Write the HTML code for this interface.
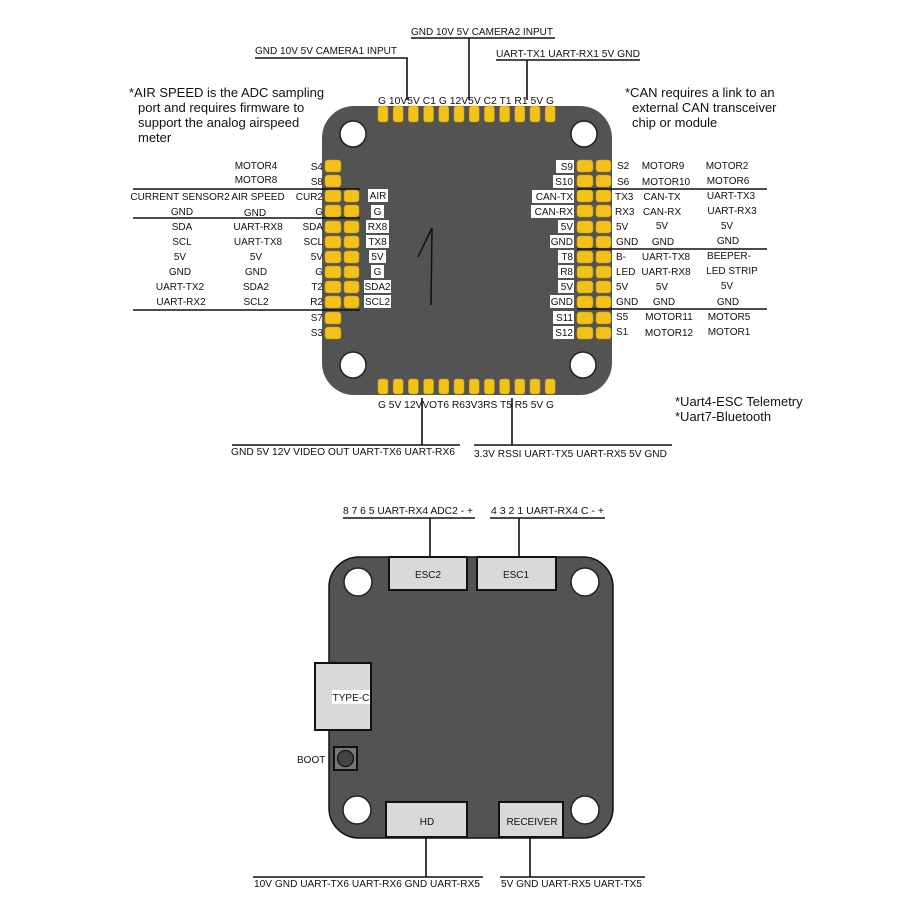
<!DOCTYPE html>
<html><head><meta charset="utf-8"><style>
html,body{margin:0;padding:0;background:#fff;}
svg{display:block;}
text{font-family:"Liberation Sans",sans-serif;fill:#111;}
.s{font-size:10px;}
.n{font-size:13px;fill:#222;}
.lb{font-size:10px;}
</style></head><body>
<svg width="900" height="900" viewBox="0 0 900 900" xmlns="http://www.w3.org/2000/svg">
<!-- TOP BOARD -->
<rect x="322" y="106" width="290" height="289" rx="32" fill="#535354"/>
<circle cx="353" cy="134" r="13" fill="#fff" stroke="#222" stroke-width="1.5"/>
<circle cx="584" cy="134" r="13" fill="#fff" stroke="#222" stroke-width="1.5"/>
<circle cx="353" cy="365" r="13" fill="#fff" stroke="#222" stroke-width="1.5"/>
<circle cx="583" cy="365" r="13" fill="#fff" stroke="#222" stroke-width="1.5"/>
<g fill="#f2c21b" stroke="#c79a00" stroke-width="0.6">
<rect x="378" y="106" width="10" height="16" rx="2.5"/><rect x="393.2" y="106" width="10" height="16" rx="2.5"/><rect x="408.4" y="106" width="10" height="16" rx="2.5"/><rect x="423.6" y="106" width="10" height="16" rx="2.5"/><rect x="438.8" y="106" width="10" height="16" rx="2.5"/><rect x="454" y="106" width="10" height="16" rx="2.5"/><rect x="469.2" y="106" width="10" height="16" rx="2.5"/><rect x="484.4" y="106" width="10" height="16" rx="2.5"/><rect x="499.6" y="106" width="10" height="16" rx="2.5"/><rect x="514.8" y="106" width="10" height="16" rx="2.5"/><rect x="530" y="106" width="10" height="16" rx="2.5"/><rect x="545.2" y="106" width="10" height="16" rx="2.5"/>
<rect x="378" y="379" width="10" height="15" rx="2.5"/><rect x="393.2" y="379" width="10" height="15" rx="2.5"/><rect x="408.4" y="379" width="10" height="15" rx="2.5"/><rect x="423.6" y="379" width="10" height="15" rx="2.5"/><rect x="438.8" y="379" width="10" height="15" rx="2.5"/><rect x="454" y="379" width="10" height="15" rx="2.5"/><rect x="469.2" y="379" width="10" height="15" rx="2.5"/><rect x="484.4" y="379" width="10" height="15" rx="2.5"/><rect x="499.6" y="379" width="10" height="15" rx="2.5"/><rect x="514.8" y="379" width="10" height="15" rx="2.5"/><rect x="530" y="379" width="10" height="15" rx="2.5"/><rect x="545.2" y="379" width="10" height="15" rx="2.5"/>
<!-- left pads -->
<rect x="325" y="160" width="16" height="12" rx="3"/><rect x="325" y="175" width="16" height="12" rx="3"/>
<rect x="325" y="190" width="16" height="12" rx="3"/><rect x="344" y="190" width="15" height="12" rx="3"/>
<rect x="325" y="205" width="16" height="12" rx="3"/><rect x="344" y="205" width="15" height="12" rx="3"/>
<rect x="325" y="221" width="16" height="12" rx="3"/><rect x="344" y="221" width="15" height="12" rx="3"/>
<rect x="325" y="236" width="16" height="12" rx="3"/><rect x="344" y="236" width="15" height="12" rx="3"/>
<rect x="325" y="251" width="16" height="12" rx="3"/><rect x="344" y="251" width="15" height="12" rx="3"/>
<rect x="325" y="266" width="16" height="12" rx="3"/><rect x="344" y="266" width="15" height="12" rx="3"/>
<rect x="325" y="281" width="16" height="12" rx="3"/><rect x="344" y="281" width="15" height="12" rx="3"/>
<rect x="325" y="296" width="16" height="12" rx="3"/><rect x="344" y="296" width="15" height="12" rx="3"/>
<rect x="325" y="312" width="16" height="12" rx="3"/><rect x="325" y="327" width="16" height="12" rx="3"/>
<!-- right pads -->
<rect x="577" y="160" width="16" height="12" rx="3"/><rect x="596" y="160" width="15" height="12" rx="3"/>
<rect x="577" y="175" width="16" height="12" rx="3"/><rect x="596" y="175" width="15" height="12" rx="3"/>
<rect x="577" y="190" width="16" height="12" rx="3"/><rect x="596" y="190" width="15" height="12" rx="3"/>
<rect x="577" y="205" width="16" height="12" rx="3"/><rect x="596" y="205" width="15" height="12" rx="3"/>
<rect x="577" y="221" width="16" height="12" rx="3"/><rect x="596" y="221" width="15" height="12" rx="3"/>
<rect x="577" y="236" width="16" height="12" rx="3"/><rect x="596" y="236" width="15" height="12" rx="3"/>
<rect x="577" y="251" width="16" height="12" rx="3"/><rect x="596" y="251" width="15" height="12" rx="3"/>
<rect x="577" y="266" width="16" height="12" rx="3"/><rect x="596" y="266" width="15" height="12" rx="3"/>
<rect x="577" y="281" width="16" height="12" rx="3"/><rect x="596" y="281" width="15" height="12" rx="3"/>
<rect x="577" y="296" width="16" height="12" rx="3"/><rect x="596" y="296" width="15" height="12" rx="3"/>
<rect x="577" y="312" width="16" height="12" rx="3"/><rect x="596" y="312" width="15" height="12" rx="3"/>
<rect x="577" y="327" width="16" height="12" rx="3"/><rect x="596" y="327" width="15" height="12" rx="3"/>
</g>
<!-- handwritten 1 -->
<path d="M418 257 L432 228 L431 305" fill="none" stroke="#111" stroke-width="1.5"/>
<!-- left white label boxes -->
<g fill="#fff">
<rect x="368" y="189" width="20" height="13"/><rect x="371" y="205" width="13" height="13"/>
<rect x="366" y="220" width="23" height="13"/><rect x="366" y="235" width="23" height="13"/>
<rect x="369" y="250" width="17" height="13"/><rect x="371" y="265" width="13" height="13"/>
<rect x="364" y="280" width="27" height="13"/><rect x="364" y="295" width="27" height="13"/>
</g>
<g class="s" text-anchor="middle">
<text x="378" y="199">AIR</text><text x="377.5" y="215">G</text><text x="377.5" y="230">RX8</text><text x="377.5" y="245">TX8</text><text x="377.5" y="260">5V</text><text x="377.5" y="275">G</text><text x="377.5" y="290">SDA2</text><text x="377.5" y="305">SCL2</text>
</g>
<!-- right white label boxes -->
<g fill="#fff">
<rect x="556" y="160" width="18" height="13"/><rect x="553" y="175" width="21" height="13"/>
<rect x="532" y="190" width="42" height="13"/><rect x="531" y="205" width="43" height="13"/>
<rect x="558" y="220" width="16" height="13"/><rect x="550" y="235" width="24" height="13"/>
<rect x="558" y="250" width="16" height="13"/><rect x="558" y="265" width="16" height="13"/>
<rect x="558" y="280" width="16" height="13"/><rect x="550" y="295" width="24" height="13"/>
<rect x="553" y="311" width="21" height="13"/><rect x="553" y="326" width="21" height="13"/>
</g>
<g class="s" text-anchor="end">
<text x="573" y="170">S9</text><text x="573" y="185">S10</text><text x="573" y="200">CAN-TX</text><text x="573" y="215">CAN-RX</text><text x="573" y="230">5V</text><text x="573" y="245">GND</text><text x="573" y="260">T8</text><text x="573" y="275">R8</text><text x="573" y="290">5V</text><text x="573" y="305">GND</text><text x="573" y="321">S11</text><text x="573" y="336">S12</text>
</g>
<!-- left text columns -->
<g class="s" text-anchor="end">
<text x="323" y="170">S4</text><text x="323" y="185">S8</text><text x="323" y="200">CUR2</text><text x="323" y="215">G</text><text x="323" y="230">SDA</text><text x="323" y="245">SCL</text><text x="323" y="260">5V</text><text x="323" y="275">G</text><text x="323" y="290">T2</text><text x="323" y="305">R2</text><text x="323" y="321">S7</text><text x="323" y="336">S3</text>
</g>
<g class="s" text-anchor="middle">
<text x="256" y="169">MOTOR4</text><text x="256" y="183">MOTOR8</text>
<text x="180" y="200">CURRENT SENSOR2</text><text x="258" y="200">AIR SPEED</text>
<text x="182" y="215">GND</text><text x="255" y="216">GND</text>
<text x="182" y="230">SDA</text><text x="258" y="230">UART-RX8</text>
<text x="182" y="245">SCL</text><text x="258" y="245">UART-TX8</text>
<text x="180" y="260">5V</text><text x="256" y="260">5V</text>
<text x="180" y="275">GND</text><text x="256" y="275">GND</text>
<text x="180" y="290">UART-TX2</text><text x="256" y="290">SDA2</text>
<text x="181" y="305">UART-RX2</text><text x="256" y="305">SCL2</text>
</g>
<g stroke="#111" stroke-width="1.6">
<line x1="133" y1="189" x2="360" y2="189"/><line x1="133" y1="218" x2="360" y2="218"/><line x1="133" y1="310" x2="360" y2="310"/>
<line x1="577" y1="189" x2="767" y2="189"/><line x1="577" y1="249" x2="767" y2="249"/><line x1="577" y1="309" x2="767" y2="309"/>
</g>
<!-- right text columns -->
<g class="s">
<text x="617" y="169">S2</text><text x="617" y="185">S6</text><text x="615" y="200">TX3</text><text x="615" y="215">RX3</text><text x="616" y="230">5V</text><text x="616" y="245">GND</text><text x="616" y="260">B-</text><text x="616" y="275">LED</text><text x="616" y="290">5V</text><text x="616" y="305">GND</text><text x="616" y="320">S5</text><text x="616" y="335">S1</text>
</g>
<g class="s" text-anchor="middle">
<text x="663" y="169">MOTOR9</text><text x="666" y="185">MOTOR10</text><text x="662" y="200">CAN-TX</text><text x="662" y="215">CAN-RX</text><text x="662" y="229">5V</text><text x="663" y="245">GND</text><text x="666" y="260">UART-TX8</text><text x="666" y="275">UART-RX8</text><text x="662" y="290">5V</text><text x="664" y="305">GND</text><text x="669" y="320">MOTOR11</text><text x="669" y="336">MOTOR12</text>
<text x="727" y="169">MOTOR2</text><text x="728" y="184">MOTOR6</text><text x="731" y="199">UART-TX3</text><text x="732" y="214">UART-RX3</text><text x="727" y="229">5V</text><text x="728" y="244">GND</text><text x="729" y="259">BEEPER-</text><text x="732" y="274">LED STRIP</text><text x="727" y="289">5V</text><text x="728" y="305">GND</text><text x="729" y="320">MOTOR5</text><text x="729" y="335">MOTOR1</text>
</g>
<!-- top labels -->
<text class="s" x="378" y="104" textLength="176" lengthAdjust="spacingAndGlyphs">G 10V5V C1 G 12V5V C2 T1 R1 5V G</text>
<text class="s" x="378" y="408" textLength="176" lengthAdjust="spacingAndGlyphs">G 5V 12VVOT6 R63V3RS T5 R5 5V G</text>
<g stroke="#111" stroke-width="1.6" fill="none">
<polyline points="255,58 407,58 407,100"/>
<polyline points="411,38 555,38"/><line x1="469" y1="38" x2="469" y2="100"/>
<polyline points="496,60 640,60"/><line x1="527" y1="60" x2="527" y2="100"/>
<line x1="422" y1="398" x2="422" y2="445"/><line x1="232" y1="445" x2="460" y2="445"/>
<line x1="512" y1="398" x2="512" y2="445"/><line x1="474" y1="445" x2="672" y2="445"/>
</g>
<text class="s" x="255" y="54" textLength="142" lengthAdjust="spacingAndGlyphs">GND 10V 5V CAMERA1 INPUT</text>
<text class="s" x="411" y="35" textLength="142" lengthAdjust="spacingAndGlyphs">GND 10V 5V CAMERA2 INPUT</text>
<text class="s" x="496" y="57" textLength="144" lengthAdjust="spacingAndGlyphs">UART-TX1 UART-RX1 5V GND</text>
<text class="s" x="231" y="455" textLength="224" lengthAdjust="spacingAndGlyphs">GND 5V 12V VIDEO OUT UART-TX6 UART-RX6</text>
<text class="s" x="474" y="457" textLength="193" lengthAdjust="spacingAndGlyphs">3.3V RSSI UART-TX5 UART-RX5 5V GND</text>
<!-- notes -->
<g class="n">
<text x="129" y="97">*AIR SPEED is the ADC sampling</text>
<text x="138" y="112">port and requires firmware to</text>
<text x="138" y="127">support the analog airspeed</text>
<text x="138" y="142">meter</text>
<text x="625" y="97">*CAN requires a link to an</text>
<text x="632" y="112">external CAN transceiver</text>
<text x="632" y="127">chip or module</text>
<text x="675" y="406">*Uart4-ESC Telemetry</text>
<text x="675" y="421">*Uart7-Bluetooth</text>
</g>

<!-- BOTTOM BOARD -->
<rect x="329" y="557" width="284" height="281" rx="30" fill="#535354" stroke="#111" stroke-width="1.5"/>
<circle cx="358" cy="582" r="14" fill="#fff" stroke="#222" stroke-width="1.5"/>
<circle cx="585" cy="582" r="14" fill="#fff" stroke="#222" stroke-width="1.5"/>
<circle cx="357" cy="810" r="14" fill="#fff" stroke="#222" stroke-width="1.5"/>
<circle cx="585" cy="810" r="14" fill="#fff" stroke="#222" stroke-width="1.5"/>
<g fill="#d9d9d9" stroke="#111" stroke-width="2">
<rect x="389" y="557" width="78" height="33"/>
<rect x="477" y="557" width="79" height="33"/>
<rect x="315" y="663" width="56" height="67"/>
<rect x="386" y="802" width="81" height="35"/>
<rect x="499" y="802" width="64" height="35"/>
<rect x="334" y="747" width="23" height="23" fill="#777"/>
</g>
<circle cx="345.5" cy="758.5" r="8" fill="#444" stroke="#111" stroke-width="1.2"/>
<rect x="332" y="690" width="38" height="14" fill="#fff"/>
<g class="s" text-anchor="middle">
<text x="428" y="578">ESC2</text><text x="516" y="578">ESC1</text>
<text x="427" y="825">HD</text><text x="532" y="825">RECEIVER</text>
<text x="351" y="701">TYPE-C</text>
</g>
<text class="s" x="297" y="763">BOOT</text>
<g stroke="#111" stroke-width="1.6">
<line x1="430" y1="518" x2="430" y2="557"/><line x1="343" y1="518" x2="475" y2="518"/>
<line x1="519" y1="518" x2="519" y2="557"/><line x1="490" y1="518" x2="605" y2="518"/>
<line x1="426" y1="837" x2="426" y2="877"/><line x1="253" y1="877" x2="483" y2="877"/>
<line x1="530" y1="837" x2="530" y2="877"/><line x1="500" y1="877" x2="645" y2="877"/>
</g>
<text class="s" x="343" y="514" textLength="130" lengthAdjust="spacingAndGlyphs">8 7 6 5 UART-RX4 ADC2 - +</text>
<text class="s" x="491" y="514" textLength="113" lengthAdjust="spacingAndGlyphs">4 3 2 1 UART-RX4 C - +</text>
<text class="s" x="254" y="887" textLength="226" lengthAdjust="spacingAndGlyphs">10V GND UART-TX6 UART-RX6 GND UART-RX5</text>
<text class="s" x="501" y="887" textLength="141" lengthAdjust="spacingAndGlyphs">5V GND UART-RX5 UART-TX5</text>
</svg>
</body></html>
